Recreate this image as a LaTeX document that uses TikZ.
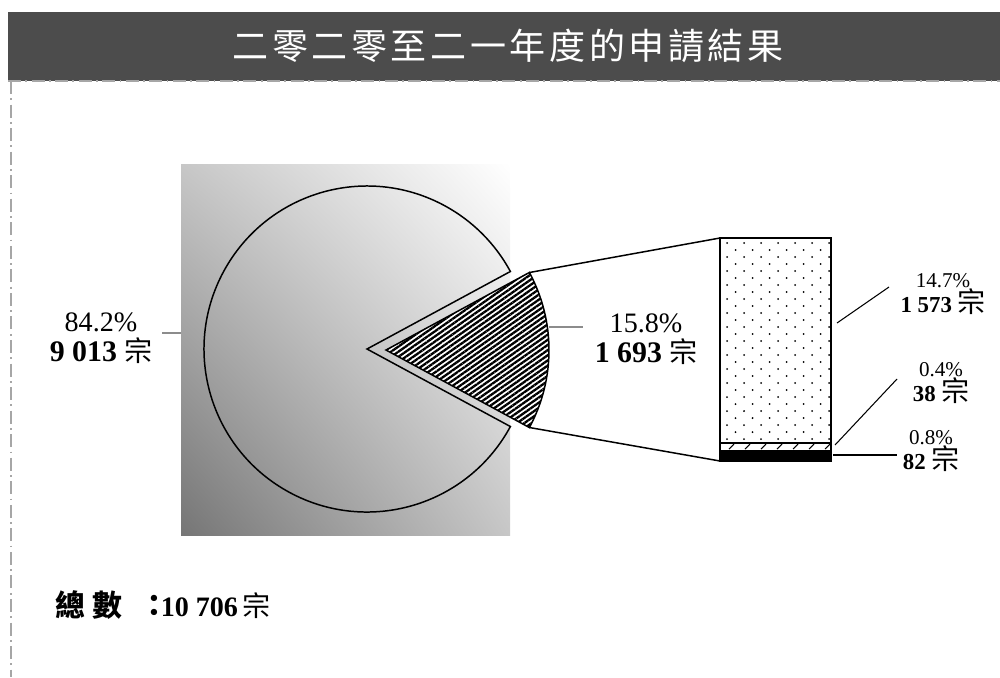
\documentclass[tikz,border=0pt]{standalone}
\usepackage{fontspec}
\setmainfont{Liberation Serif}
\newfontfamily\cjk{Noto Sans CJK TC}
\usetikzlibrary{patterns.meta,shadings}
\newcommand{\zong}{{\cjk\fontsize{16}{16}\selectfont 宗}}

\begin{document}
\begin{tikzpicture}[x=0.02cm,y=-0.02cm,
    every node/.style={inner sep=0pt},
    leader/.style={black!45,line width=1.1pt},
    barleader/.style={line width=0.6pt},
    biglabel/.style={align=center,font=\fontsize{16}{17}\selectfont},
    smalllabel/.style={align=center,font=\fontsize{12}{12.5}\selectfont}]
   \useasboundingbox (0,0) rectangle (1000,677);
   % title bar and frame
   \fill [black!70] (8,12) rectangle (1000,81);
   \node (title) [text=white] at (508,46)
     {\cjk\fontsize{20.5}{20.5}\selectfont\addfontfeature{LetterSpace=10}二零二零至二一年度的申請結果};
   \draw [black!35,line width=1pt,dash pattern=on 7.4pt off 2.5pt on 1pt off 2.5pt] (8,81) -- (1000,81);
   \draw [black!35,line width=1pt,dash pattern=on 7.4pt off 2.5pt on 1pt off 2.5pt] (11,81) -- (11,677);
   % background square
   \shade [lower left=black!54,upper right=white,upper left=black!22,lower right=black!22]
     (181,164) rectangle (510,535);
   % pie
   \coordinate (O) at (367,349);
   \draw [line width=0.85pt] (O) -- ++(28.4:163) arc [start angle=28.4,end angle=331.6,radius=163] -- cycle;
   \coordinate (W) at (386,350);
   \fill [white] (W) -- ++(-28.4:163) arc [start angle=-28.4,end angle=28.4,radius=163] -- cycle;
   \draw [line width=0.85pt,pattern={Lines[angle=35,distance=2.4pt,line width=1.3pt]}]
     (W) -- ++(-28.4:163) arc [start angle=-28.4,end angle=28.4,radius=163] -- cycle;
   \coordinate (wtop) at (529.4,272.5);
   \coordinate (wbot) at (529.4,427.5);
   % bar
   \fill [white] (720,238) rectangle (831,461);
   \foreach \r in {0,2,...,28}
     \foreach \c in {0,...,6}
       \fill (727+17*\c,243+7*\r) circle [radius=1];
   \foreach \r in {1,3,...,27}
     \foreach \c in {0,...,5}
       \fill (735.5+17*\c,243+7*\r) circle [radius=1];
   \foreach \c in {0,...,6}
     \draw [line width=0.6pt] (729+16*\c,449) -- ++(5,-5);
   \fill (720,450) rectangle (831,461);
   \draw [line width=0.6pt] (720,443) -- (831,443);
   \draw [line width=1.1pt] (720,238) rectangle (831,461);
   \coordinate (btop) at (720,238);
   \coordinate (bbot) at (720,461);
   \draw [line width=0.85pt] (wtop) -- (btop);
   \draw [line width=0.85pt] (wbot) -- (bbot);
   % labels
   \node (big) [biglabel] at (101,338) {84.2\%\\\textbf{\fontsize{17}{17}\selectfont 9 013} \zong};
   \node (small) [biglabel] at (646,339) {15.8\%\\\textbf{\fontsize{17}{17}\selectfont 1 693} \zong};
   \node (dots) [smalllabel] at (943,294) {14.7\%\\\textbf{\fontsize{13}{13}\selectfont 1 573} \zong};
   \node (hatch) [smalllabel] at (941,383) {0.4\%\\\textbf{\fontsize{13}{13}\selectfont 38} \zong};
   \node (black) [smalllabel] at (931,451) {0.8\%\\\textbf{\fontsize{13}{13}\selectfont 82} \zong};
   \coordinate (a1) at (162,333); \coordinate (a2) at (181,333);
   \coordinate (b1) at (549,327); \coordinate (b2) at (583,327);
   \coordinate (c1) at (837,323); \coordinate (c2) at (889,287);
   \coordinate (d1) at (835,445); \coordinate (d2) at (897,379);
   \coordinate (e1) at (833,455); \coordinate (e2) at (897,455);
   \draw [leader] (a1) -- (a2);
   \draw [leader] (b1) -- (b2);
   \draw [barleader] (c1) -- (c2);
   \draw [barleader] (d1) -- (d2);
   \draw [barleader] (e1) -- (e2);
   % total
   \node (total) [anchor=west] at (55,605)
     {{\cjk\bfseries\fontsize{17}{17}\selectfont 總 數\hspace{0.6em}：\kern-0.3em}\textbf{\fontsize{16}{16}\selectfont 10 706} \zong};
\end{tikzpicture}
\end{document}
